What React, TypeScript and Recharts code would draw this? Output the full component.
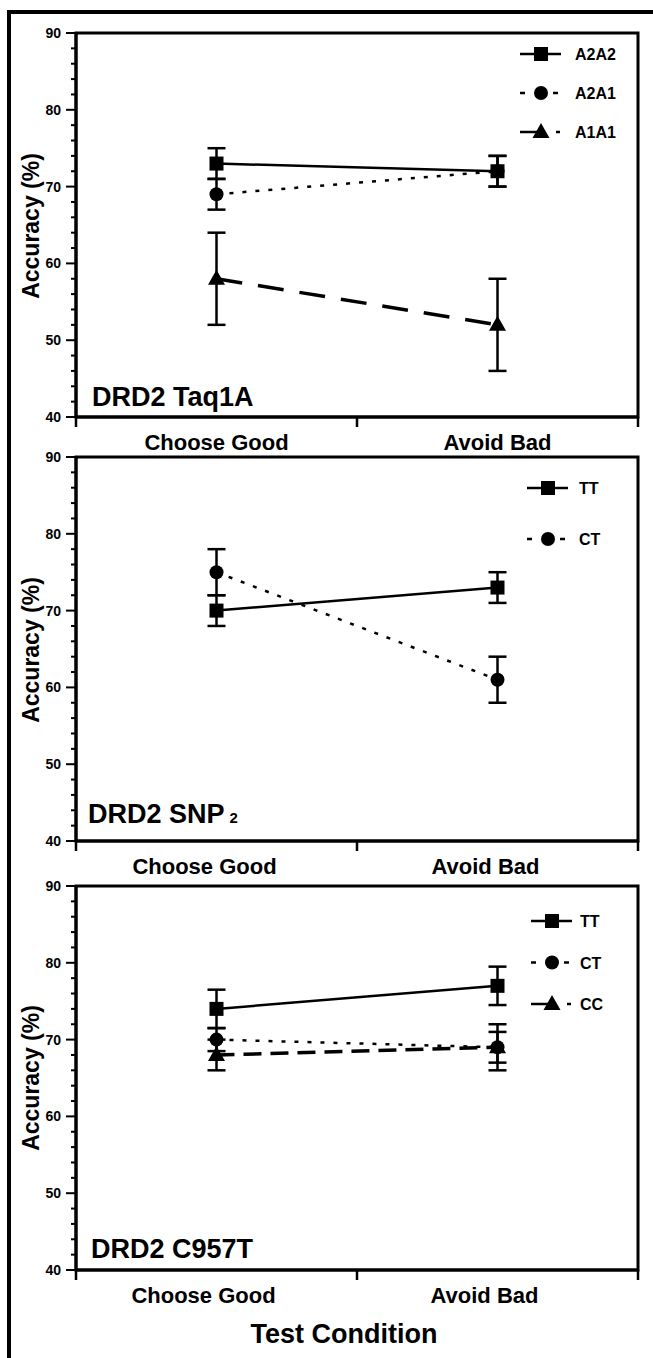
import React from 'react';
import { LineChart, Line, XAxis, YAxis, ErrorBar, ReferenceArea, Legend } from 'recharts';

const FONT = '"Liberation Sans", Arial, Helvetica, sans-serif';

const CONDITIONS = ['Choose Good', 'Avoid Bad'];
const Y_LABELS = [40, 50, 60, 70, 80, 90];
const Y_TICKS = [40, 42, 44, 46, 48, 50, 52, 54, 56, 58, 60, 62, 64, 66, 68, 70, 72, 74, 76, 78, 80, 82, 84, 86, 88, 90];

// DRD2 Taq1A
const TAQ_A2A2 = [73, 72];
const TAQ_A2A2_SEM = [2, 2];
const TAQ_A2A1 = [69, 72];
const TAQ_A2A1_SEM = [2, 2];
const TAQ_A1A1 = [58, 52];
const TAQ_A1A1_SEM = [6, 6];

// DRD2 SNP2
const SNP_TT = [70, 73];
const SNP_TT_SEM = [2, 2];
const SNP_CT = [75, 61];
const SNP_CT_SEM = [3, 3];

// DRD2 C957T
const C957_TT = [74, 77];
const C957_TT_SEM = [2.5, 2.5];
const C957_CT = [70, 69];
const C957_CT_SEM = [1.5, 2];
const C957_CC = [68, 69];
const C957_CC_SEM = [2, 3];

type Shape = 'square' | 'circle' | 'triangle';

interface Series {
    key: string;
    name: string;
    values: number[];
    errors: number[];
    shape: Shape;
    dash?: string;
    width: number;
    legendDash?: string;
}

const SOLID = { width: 2.5 };
const DOTTED = { dash: '4 9', width: 2.5, legendDash: '5 28 5 100' };
const DASHED = { dash: '26 16', width: 3.5, legendDash: '24 12 4 100' };
const DASHED_SHORT = { dash: '18 9', width: 3.5, legendDash: '24 12 4 100' };

// listed in legend order
const TAQ_SERIES: Series[] = [
    { key: 'a2a2', name: 'A2A2', values: TAQ_A2A2, errors: TAQ_A2A2_SEM, shape: 'square', ...SOLID },
    { key: 'a2a1', name: 'A2A1', values: TAQ_A2A1, errors: TAQ_A2A1_SEM, shape: 'circle', ...DOTTED },
    { key: 'a1a1', name: 'A1A1', values: TAQ_A1A1, errors: TAQ_A1A1_SEM, shape: 'triangle', ...DASHED },
];
const SNP_SERIES: Series[] = [
    { key: 'tt', name: 'TT', values: SNP_TT, errors: SNP_TT_SEM, shape: 'square', ...SOLID },
    { key: 'ct', name: 'CT', values: SNP_CT, errors: SNP_CT_SEM, shape: 'circle', ...DOTTED },
];
const C957_SERIES: Series[] = [
    { key: 'tt', name: 'TT', values: C957_TT, errors: C957_TT_SEM, shape: 'square', ...SOLID },
    { key: 'ct', name: 'CT', values: C957_CT, errors: C957_CT_SEM, shape: 'circle', ...DOTTED },
    { key: 'cc', name: 'CC', values: C957_CC, errors: C957_CC_SEM, shape: 'triangle', ...DASHED_SHORT },
];

function Marker({ shape, cx, cy }: { shape: Shape; cx: number; cy: number }) {
    if (shape === 'square') return <rect x={cx - 7} y={cy - 7} width={14} height={14} fill="#000" />;
    if (shape === 'circle') return <circle cx={cx} cy={cy} r={7} fill="#000" />;
    return <polygon points={`${cx},${cy - 9} ${cx + 8.5},${cy + 6} ${cx - 8.5},${cy + 6}`} fill="#000" />;
}

const markerDot = (shape: Shape) => (props: any) => {
    const { cx, cy, index } = props;
    if (cx == null || cy == null) return <g key={index} />;
    return (
        <g key={index}>
            <Marker shape={shape} cx={cx} cy={cy} />
        </g>
    );
};

function YTick(props: any) {
    const { x, y, payload } = props;
    const major = Y_LABELS.includes(payload.value);
    return (
        <g>
            <line x1={x + (major ? 5 : 10)} x2={x + 15} y1={y} y2={y} stroke="#000" strokeWidth={2} />
            {major && (
                <text x={x} y={y} dy={5} textAnchor="end" fontSize={14} fontWeight={700} fill="#000">
                    {payload.value}
                </text>
            )}
        </g>
    );
}

// category label at band centre, tick marks on the band edges
const makeXTick = (labelDx: number) => (props: any) => {
    const { x, y, payload, width, visibleTicksCount, index } = props;
    const half = width / visibleTicksCount / 2;
    const last = index === visibleTicksCount - 1;
    return (
        <g>
            <line x1={x - half} x2={x - half} y1={y} y2={y + 10} stroke="#000" strokeWidth={2.5} />
            {last && <line x1={x + half} x2={x + half} y1={y} y2={y + 10} stroke="#000" strokeWidth={2.5} />}
            <text x={x + labelDx} y={y + 33} textAnchor="middle" fontSize={22} fontWeight={700} fill="#000">
                {payload.value}
            </text>
        </g>
    );
};

function LegendBox({ series, gap, textX }: { series: Series[]; gap: number; textX: number }) {
    return (
        <svg width={130} height={30 + gap * series.length} style={{ overflow: 'visible' }}>
            {series.map((s, i) => {
                const y = 15 + i * gap;
                return (
                    <g key={s.key}>
                        <line x1={9} x2={50} y1={y} y2={y} stroke="#000" strokeWidth={2.5} strokeDasharray={s.legendDash} />
                        <Marker shape={s.shape} cx={30} cy={y} />
                        <text x={textX} y={y + 6} fontSize={16} fontWeight={700} fill="#000">
                            {s.name}
                        </text>
                    </g>
                );
            })}
        </svg>
    );
}

interface PanelProps {
    top: number;
    series: Series[];
    labelDx: number;
    legendX: number;
    legendY: number;
    legendGap: number;
    legendTextX: number;
}

function Panel({ top, series, labelDx, legendX, legendY, legendGap, legendTextX }: PanelProps) {
    const data = CONDITIONS.map((cond, i) => {
        const row: Record<string, any> = { cond };
        series.forEach((s) => {
            row[s.key] = s.values[i];
            row[s.key + 'Err'] = s.errors[i];
        });
        return row;
    });

    return (
        <div style={{ position: 'absolute', left: 0, top }}>
            <LineChart width={653} height={460} data={data} margin={{ top: 33, right: 15, bottom: 13, left: 36 }}>
                <ReferenceArea y1={40} y2={90} fill="none" stroke="#000" strokeWidth={3} ifOverflow="visible" />
                <XAxis
                    dataKey="cond"
                    type="category"
                    scale="band"
                    height={30}
                    interval={0}
                    tickLine={false}
                    axisLine={{ stroke: '#000', strokeWidth: 3 }}
                    tickSize={0}
                    tickMargin={0}
                    tick={makeXTick(labelDx)}
                />
                <YAxis
                    type="number"
                    domain={[40, 90]}
                    ticks={Y_TICKS}
                    interval={0}
                    width={40}
                    axisLine={{ stroke: '#000', strokeWidth: 3 }}
                    tickLine={false}
                    tickSize={10}
                    tickMargin={5}
                    tick={YTick}
                />
                {[...series].reverse().map((s) => (
                    <Line
                        key={s.key}
                        dataKey={s.key}
                        name={s.name}
                        stroke="#000"
                        strokeWidth={s.width}
                        strokeDasharray={s.dash}
                        dot={markerDot(s.shape)}
                        activeDot={false}
                        isAnimationActive={false}
                    >
                        <ErrorBar dataKey={s.key + 'Err'} width={9} stroke="#000" strokeWidth={2.5} direction="y" isAnimationActive={false} />
                    </Line>
                ))}
                <Legend
                    layout="vertical"
                    align="center"
                    verticalAlign="middle"
                    wrapperStyle={{ position: 'absolute', left: legendX - 30, top: legendY - 15, width: 130 }}
                    content={() => <LegendBox series={series} gap={legendGap} textX={legendTextX} />}
                />
            </LineChart>
        </div>
    );
}

export default function App() {
    return (
        <div
            style={{
                position: 'absolute',
                left: 0,
                top: 0,
                width: 653,
                height: 1358,
                overflow: 'hidden',
                background: '#fff',
                fontFamily: FONT,
            }}
        >
            <div
                style={{
                    position: 'absolute',
                    left: 7,
                    top: 10,
                    width: 700,
                    height: 1400,
                    borderLeft: '4px solid #000',
                    borderTop: '4px solid #000',
                }}
            />
            <Panel top={0} series={TAQ_SERIES} labelDx={0} legendX={541} legendY={54} legendGap={39} legendTextX={64} />
            <Panel top={424} series={SNP_SERIES} labelDx={-12} legendX={548} legendY={64} legendGap={51} legendTextX={61} />
            <Panel top={853} series={C957_SERIES} labelDx={-13} legendX={552} legendY={68} legendGap={41.5} legendTextX={58} />
            <svg width={653} height={1358} style={{ position: 'absolute', left: 0, top: 0, pointerEvents: 'none' }}>
                <g fontFamily={FONT} fontWeight={700} fill="#000">
                    <text x={92} y={406} fontSize={27}>DRD2 Taq1A</text>
                    <text x={88} y={823} fontSize={27}>
                        DRD2 SNP
                        <tspan dx={5} fontSize={15}>2</tspan>
                    </text>
                    <text x={91} y={1258} fontSize={27}>DRD2 C957T</text>
                    <text transform="translate(39 226) rotate(-90)" textAnchor="middle" fontSize={23}>Accuracy (%)</text>
                    <text transform="translate(39 650) rotate(-90)" textAnchor="middle" fontSize={23}>Accuracy (%)</text>
                    <text transform="translate(39 1078) rotate(-90)" textAnchor="middle" fontSize={23}>Accuracy (%)</text>
                    <text x={344} y={1343} textAnchor="middle" fontSize={27}>Test Condition</text>
                </g>
            </svg>
        </div>
    );
}
